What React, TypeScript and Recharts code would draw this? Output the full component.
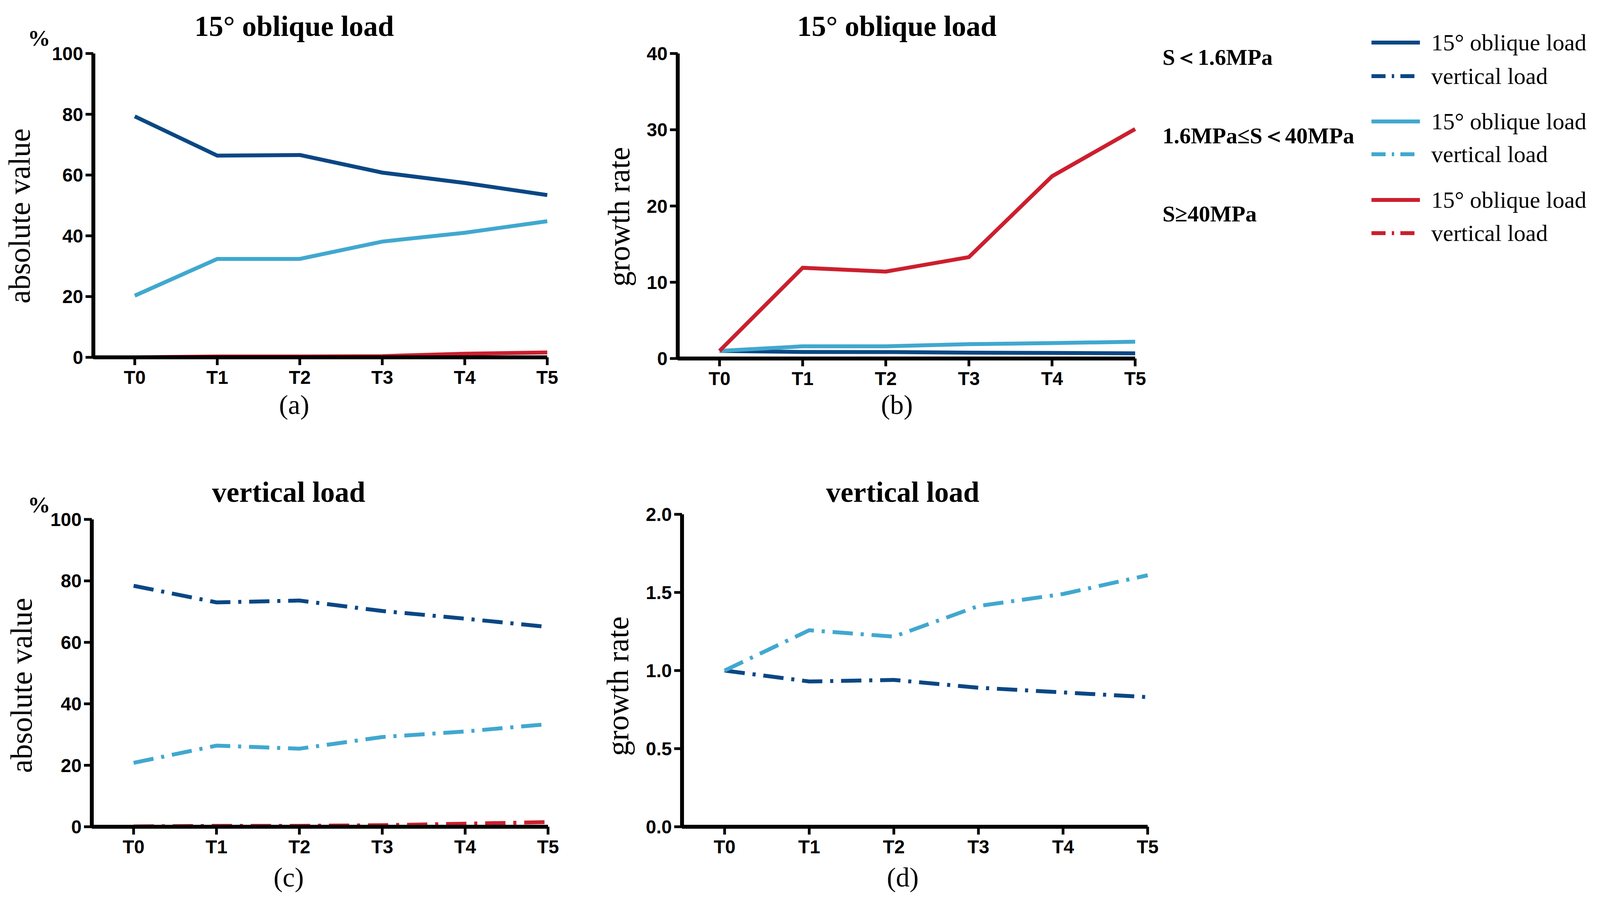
import React from "react";
import { CartesianGrid, Line, LineChart, XAxis, YAxis } from "recharts";

const categories = ["T0", "T1", "T2", "T3", "T4", "T5"];

// (a) absolute value, 15° oblique load (%)
const absObliqueLow = [79.3, 66.4, 66.6, 60.8, 57.4, 53.4];
const absObliqueMid = [20.3, 32.4, 32.4, 38.1, 41.0, 44.8];
const absObliqueHigh = [0, 0.3, 0.3, 0.4, 1.2, 1.6];

// (b) growth rate, 15° oblique load
const growthObliqueLow = [1, 0.86, 0.85, 0.77, 0.73, 0.68];
const growthObliqueMid = [1, 1.6, 1.6, 1.88, 2.02, 2.2];
const growthObliqueHigh = [1, 11.9, 11.4, 13.3, 23.9, 30.1];

// (c) absolute value, vertical load (%)
const absVerticalLow = [78.4, 73.0, 73.6, 70.2, 67.7, 65.0];
const absVerticalMid = [20.8, 26.4, 25.4, 29.2, 31.0, 33.4];
const absVerticalHigh = [0.1, 0.3, 0.3, 0.5, 1.0, 1.5];

// (d) growth rate, vertical load
const growthVerticalLow = [1, 0.93, 0.94, 0.89, 0.86, 0.83];
const growthVerticalMid = [1, 1.258, 1.217, 1.413, 1.49, 1.61];

const percentTicks = [0, 20, 40, 60, 80, 100];
const obliqueGrowthTicks = [0, 10, 20, 30, 40];
const verticalGrowthTicks = [0, 0.5, 1.0, 1.5, 2.0];

const DARK = "#0a4784";
const LIGHT = "#41a8cf";
const RED = "#cc1f2e";
const DASH = "52 20 8 20";

const SERIF = '"Liberation Serif", "Times New Roman", serif';
const SANS = '"Liberation Sans", Arial, sans-serif';

const tickStyle = { fontFamily: SANS, fontWeight: 700, fontSize: 48, fill: "#000" };

function toRows(series: Record<string, number[]>) {
  return categories.map((c, i) => {
    const row: Record<string, string | number> = { t: c };
    Object.keys(series).forEach((k) => (row[k] = series[k][i]));
    return row;
  });
}

type LineDef = { key: string; color: string; dashed?: boolean };

type PanelProps = {
  left: number;
  top: number;
  width: number;
  height: number;
  margin: { top: number; right: number; bottom: number; left: number };
  padLeft: number;
  data: Record<string, string | number>[];
  lines: LineDef[];
  domain: [number, number];
  ticks: number[];
  decimals?: number;
};

function Panel(p: PanelProps) {
  return (
    <div style={{ position: "absolute", left: p.left, top: p.top }}>
      <LineChart width={p.width} height={p.height} data={p.data} margin={p.margin}>
        <CartesianGrid stroke="none" />
        <XAxis
          dataKey="t"
          padding={{ left: p.padLeft, right: 0 }}
          height={60}
          axisLine={{ stroke: "#000", strokeWidth: 10 }}
          tickLine={{ stroke: "#000", strokeWidth: 7 }}
          tickSize={20}
          tickMargin={14}
          tick={tickStyle}
          interval={0}
        />
        <YAxis
          width={100}
          domain={p.domain}
          ticks={p.ticks}
          allowDataOverflow
          axisLine={{ stroke: "#000", strokeWidth: 10 }}
          tickLine={{ stroke: "#000", strokeWidth: 7 }}
          tickSize={20}
          tickMargin={6}
          tick={tickStyle}
          tickFormatter={(v: number) => (p.decimals ? v.toFixed(p.decimals) : String(v))}
        />
        {p.lines.map((l) => (
          <Line
            key={l.key}
            type="linear"
            dataKey={l.key}
            stroke={l.color}
            strokeWidth={10}
            strokeDasharray={l.dashed ? DASH : undefined}
            dot={false}
            activeDot={false}
            isAnimationActive={false}
          />
        ))}
      </LineChart>
    </div>
  );
}

function Txt({
  x,
  y,
  size,
  bold,
  rotate,
  anchor = "center",
  children,
}: {
  x: number;
  y: number;
  size: number;
  bold?: boolean;
  rotate?: boolean;
  anchor?: "center" | "left";
  children: React.ReactNode;
}) {
  const tx = anchor === "center" ? "-50%" : "0";
  return (
    <div
      style={{
        position: "absolute",
        left: x,
        top: y,
        transform: `translate(${tx}, -50%)${rotate ? " rotate(-90deg)" : ""}`,
        fontFamily: SERIF,
        fontSize: size,
        fontWeight: bold ? 700 : 400,
        whiteSpace: "nowrap",
        lineHeight: 1,
        color: "#000",
      }}
    >
      {children}
    </div>
  );
}

function LegendSample({ y, color, dashed }: { y: number; color: string; dashed?: boolean }) {
  return (
    <svg style={{ position: "absolute", left: 3511, top: y - 8 }} width={126} height={16}>
      <line
        x1={0}
        y1={8}
        x2={124}
        y2={8}
        stroke={color}
        strokeWidth={10}
        strokeDasharray={dashed ? "36 16 6 16" : undefined}
      />
    </svg>
  );
}

export default function App() {
  const dataA = toRows({ low: absObliqueLow, mid: absObliqueMid, high: absObliqueHigh });
  const dataB = toRows({ low: growthObliqueLow, mid: growthObliqueMid, high: growthObliqueHigh });
  const dataC = toRows({ low: absVerticalLow, mid: absVerticalMid, high: absVerticalHigh });
  const dataD = toRows({ low: growthVerticalLow, mid: growthVerticalMid });

  const solid: LineDef[] = [
    { key: "low", color: DARK },
    { key: "mid", color: LIGHT },
    { key: "high", color: RED },
  ];
  const dashed: LineDef[] = solid.map((l) => ({ ...l, dashed: true }));

  const legendRows = [
    { y: 109, color: DARK, dashed: false, label: "15° oblique load" },
    { y: 195, color: DARK, dashed: true, label: "vertical load" },
    { y: 311, color: LIGHT, dashed: false, label: "15° oblique load" },
    { y: 395, color: LIGHT, dashed: true, label: "vertical load" },
    { y: 512, color: RED, dashed: false, label: "15° oblique load" },
    { y: 597, color: RED, dashed: true, label: "vertical load" },
  ];

  return (
    <div
      style={{
        position: "absolute",
        left: 0,
        top: 0,
        width: 4099,
        height: 2302,
        background: "#fff",
        overflow: "hidden",
      }}
    >
      <Panel
        left={0}
        top={0}
        width={1450}
        height={1100}
        margin={{ top: 137, right: 49, bottom: 125, left: 139 }}
        padLeft={106}
        data={dataA}
        lines={solid}
        domain={[0, 100]}
        ticks={percentTicks}
      />
      <Panel
        left={1450}
        top={0}
        width={1600}
        height={1100}
        margin={{ top: 137, right: 144, bottom: 122, left: 185 }}
        padLeft={107}
        data={dataB}
        lines={solid}
        domain={[0, 40]}
        ticks={obliqueGrowthTicks}
      />
      <Panel
        left={0}
        top={1150}
        width={1450}
        height={1152}
        margin={{ top: 180, right: 47, bottom: 125, left: 135 }}
        padLeft={107}
        data={dataC}
        lines={dashed}
        domain={[0, 100]}
        ticks={percentTicks}
      />
      <Panel
        left={1450}
        top={1150}
        width={1600}
        height={1152}
        margin={{ top: 167, right: 112, bottom: 125, left: 196 }}
        padLeft={109}
        data={dataD}
        lines={dashed.slice(0, 2)}
        domain={[0, 2]}
        ticks={verticalGrowthTicks}
        decimals={1}
      />

      <Txt x={753} y={67} size={74} bold>15° oblique load</Txt>
      <Txt x={2296} y={67} size={74} bold>15° oblique load</Txt>
      <Txt x={739} y={1260} size={74} bold>vertical load</Txt>
      <Txt x={2311} y={1260} size={74} bold>vertical load</Txt>

      <Txt x={100} y={98} size={58} bold>%</Txt>
      <Txt x={100} y={1293} size={58} bold>%</Txt>

      <Txt x={50} y={553} size={78} rotate>absolute value</Txt>
      <Txt x={1585} y={555} size={78} rotate>growth rate</Txt>
      <Txt x={55} y={1755} size={78} rotate>absolute value</Txt>
      <Txt x={1582} y={1757} size={78} rotate>growth rate</Txt>

      <Txt x={753} y={1037} size={70}>(a)</Txt>
      <Txt x={2296} y={1037} size={70}>(b)</Txt>
      <Txt x={739} y={2247} size={70}>(c)</Txt>
      <Txt x={2311} y={2247} size={70}>(d)</Txt>

      <Txt x={2976} y={147} size={58} bold anchor="left">S＜1.6MPa</Txt>
      <Txt x={2976} y={348} size={58} bold anchor="left">1.6MPa≤S＜40MPa</Txt>
      <Txt x={2976} y={548} size={58} bold anchor="left">S≥40MPa</Txt>

      {legendRows.map((r, i) => (
        <React.Fragment key={i}>
          <LegendSample y={r.y} color={r.color} dashed={r.dashed} />
          <Txt x={3664} y={r.y} size={60} anchor="left">{r.label}</Txt>
        </React.Fragment>
      ))}
    </div>
  );
}
